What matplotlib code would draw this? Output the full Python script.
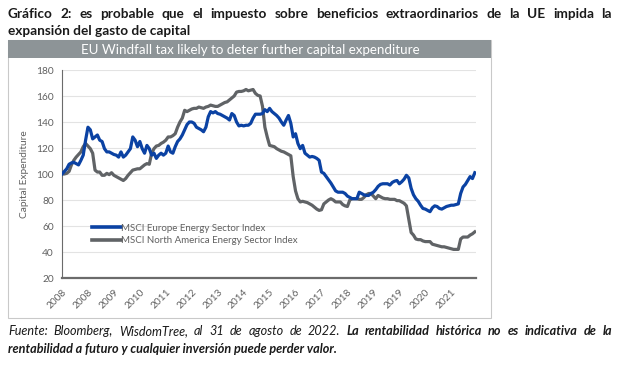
import matplotlib
matplotlib.use("Agg")
import matplotlib.pyplot as plt
from matplotlib.patches import Rectangle

# ---------------- data (monthly, Jan 2008 - Aug 2022) ----------------
europe = [100, 102, 104, 107.5, 108.5, 109, 108, 107, 110.5, 114.5,
          126, 136, 134, 127, 128.5, 130, 126, 125, 119.5, 117,
          117, 116, 115, 114.5, 113, 117, 113, 114.5, 117, 119.5,
          128.5, 126, 121, 125, 119.5, 116, 122, 119.5, 114.5, 116,
          112, 114.5, 116, 114.5, 116, 121.5, 117, 116, 121, 125,
          127, 130, 134, 138, 140, 140, 139, 136, 135, 134,
          132.5, 136, 144, 148, 147, 148, 146.5, 146, 145, 144,
          143, 141.5, 146.5, 145, 140, 137, 137.5, 137, 137.5, 137.5,
          139, 143, 146, 146, 146, 146.5, 149.5, 148, 150.5, 148,
          146.5, 145, 143, 140, 137.5, 141.5, 145, 139, 128.5, 131,
          123.5, 119.5, 122, 116, 114.5, 113, 113.5, 113, 112, 110.5,
          101.5, 100.5, 98, 95.5, 93, 90, 87, 86, 86, 86,
          85, 83, 82, 81, 81, 81, 86, 85, 84, 83.5,
          83.5, 85, 86, 88, 90.5, 92, 92.5, 92.5, 92.5, 91.5,
          93.5, 94.5, 95, 92.5, 94, 96, 99, 97, 89, 84,
          81, 79, 76, 73.5, 73, 72, 71, 74, 75.5, 75,
          73.5, 73, 74, 75, 75.5, 76, 76, 76.5, 77, 85,
          90, 92, 95, 98, 96.5, 101]

north_america = [100, 100, 100.5, 102, 107, 110.5, 113, 115, 117, 121,
                 123.5, 121.5, 119.5, 116, 103, 101.5, 101.5, 99, 99, 100.5,
                 99.5, 101, 99, 98, 97, 96, 95, 96.5, 99, 101,
                 103, 103.5, 104, 104, 105.5, 107, 108, 107.5, 116, 119.5,
                 121.5, 122, 123.5, 124.5, 126, 128.5, 128.5, 129.5, 131, 136,
                 140, 143, 149, 148, 149, 150, 150.5, 150.5, 151.5, 151,
                 150.5, 151.5, 152, 153, 152.5, 152, 152, 153, 154, 155,
                 155.5, 157, 158.5, 160, 163, 163.5, 163.5, 164, 165, 164,
                 164.5, 165, 162, 160.5, 160, 152, 136, 128.5, 122, 121.5,
                 121, 119.5, 118.5, 117.5, 117, 116, 115, 114, 98, 87,
                 81, 78.5, 79, 78.5, 78, 77, 76, 74.5, 73, 72,
                 72.5, 77, 78.5, 80, 81, 80, 78.5, 78.5, 78.5, 76.5,
                 75.5, 75, 80, 81, 81, 81, 80.5, 80.5, 82, 84,
                 85, 85, 83, 81, 83.5, 82.5, 81.5, 81, 81, 80.5,
                 80.5, 80.5, 79.5, 79.5, 78.5, 77.5, 75.5, 65, 55, 53,
                 50, 49.5, 49.5, 48.5, 48, 48, 48, 46, 45.5, 45,
                 44.5, 44, 44, 43.5, 43, 42.5, 42, 42, 42, 50,
                 51.5, 51.5, 51.5, 53, 54, 55.5]

tick_labels = ["2008", "2008", "2009", "2010", "2011", "2012", "2013", "2014",
               "2015", "2016", "2017", "2018", "2019", "2019", "2020", "2021"]
tick_step = 11  # months between labels

series_names = ["MSCI Europe Energy Sector Index",
                "MSCI North America Energy Sector Index"]

title_line1 = "Gráfico 2: es probable que el impuesto sobre beneficios extraordinarios de la UE impida la"
title_line2 = "expansión del gasto de capital"
banner_text = "EU Windfall tax likely to deter further capital expenditure"
ylabel = "Capital Expenditure"
foot1_a = "Fuente: Bloomberg, WisdomTree, al 31 de agosto de 2022."
foot1_b = "La rentabilidad histórica no es indicativa de la"
foot2 = "rentabilidad a futuro y cualquier inversión puede perder valor."

# ---------------- figure ----------------
W, H = 623, 366
FONT = "Lato"
plt.rcParams["font.family"] = [FONT, "DejaVu Sans"]
fig = plt.figure(figsize=(W / 100, H / 100), dpi=100)
fig.patch.set_facecolor("white")


def fx(px):
    return px / W


def fy(py):
    return 1 - py / H


# chart frame and banner
fig.patches.append(Rectangle((fx(8), fy(318)), fx(491) - fx(8), fy(40) - fy(318),
                             transform=fig.transFigure, facecolor="none",
                             edgecolor="#c9c9c9", linewidth=0.8, zorder=-1))
fig.patches.append(Rectangle((fx(8), fy(58)), fx(491) - fx(8), fy(40) - fy(58),
                             transform=fig.transFigure, facecolor="#8d9497",
                             edgecolor="none", zorder=1))
fig.text(fx(250), fy(49.5), banner_text, color="white", fontsize=9.6,
         ha="center", va="center")

ax = fig.add_axes([fx(62), fy(278), fx(476) - fx(62), fy(70) - fy(278)])
ax.patch.set_alpha(0)
x = list(range(len(europe)))
ax.plot(x, europe, color="#0b42a3", lw=2.3, label=series_names[0], zorder=3,
        solid_joinstyle="round")
ax.plot(range(len(north_america)), north_america, color="#606366", lw=2.3,
        label=series_names[1], zorder=2, solid_joinstyle="round")

ax.set_xlim(0, 175.5)
ax.set_ylim(20, 180)
ax.set_yticks(range(20, 181, 20))
ax.grid(axis="y", color="#e3e3e3", lw=0.8)
ax.set_axisbelow(True)
for s in ["top", "right"]:
    ax.spines[s].set_visible(False)
ax.spines["left"].set_color("#6b6b6b")
ax.spines["left"].set_linewidth(0.8)
ax.spines["bottom"].set_color("#6b6b6b")
ax.spines["bottom"].set_linewidth(1.6)
ax.tick_params(axis="both", length=0, labelsize=7.3, labelcolor="#606060")
ax.tick_params(axis="y", pad=6)

ticks = [i * tick_step for i in range(len(tick_labels))]
ax.set_xticks(ticks)
ax.set_xticklabels(tick_labels, rotation=45, ha="right", rotation_mode="anchor")
ax.tick_params(axis="x", pad=7)

ax.set_ylabel(ylabel, fontsize=7.3, color="#606060", labelpad=5)

leg = ax.legend(loc="upper left", bbox_to_anchor=(0.072, 0.262), frameon=False,
                fontsize=7.0, handlelength=3.0, handletextpad=0.05,
                labelspacing=0.35, borderaxespad=0, borderpad=0)
for t in leg.get_texts():
    t.set_color("#606060")
for l in leg.get_lines():
    l.set_linewidth(2.6)

# ---------------- justified text helpers ----------------
renderer = fig.canvas.get_renderer()


def justified(segments, y_px, x0_px, x1_px, size):
    words = []
    for text, props in segments:
        for w in text.split():
            words.append((w, props))
    objs = [fig.text(0, fy(y_px), w, fontsize=size, va="center", ha="left",
                     color="#1a1a1a", **p) for w, p in words]
    widths = [o.get_window_extent(renderer).width for o in objs]
    gap = (x1_px - x0_px - sum(widths)) / (len(objs) - 1)
    xp = x0_px
    for o, wd in zip(objs, widths):
        o.set_x(fx(xp))
        xp += wd + gap


bold = dict(fontweight="bold")
justified([(title_line1, bold)], 14, 8, 612, 9.8)
fig.text(fx(8), fy(31), title_line2, fontsize=9.8, color="#1a1a1a",
         va="center", ha="left", **bold)

it = dict(fontstyle="italic")
bit = dict(fontstyle="italic", fontweight="bold")
justified([(foot1_a, it), (foot1_b, bit)], 331, 8, 612, 9.1)
fig.text(fx(8), fy(349), foot2, fontsize=9.1, color="#1a1a1a",
         va="center", ha="left", **bit)

fig.savefig("out.png", dpi=100, facecolor="white")
